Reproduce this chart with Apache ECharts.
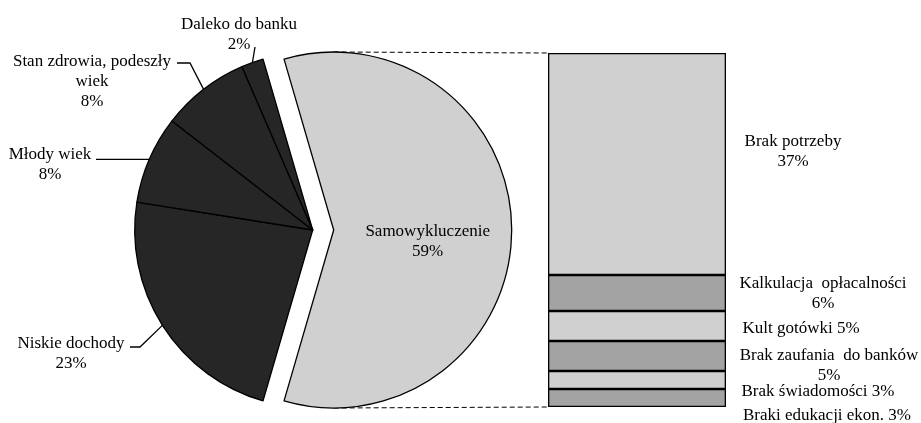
<!DOCTYPE html>
<html>
<head>
<meta charset="utf-8">
<script src="https://cdn.jsdelivr.net/npm/echarts@6/dist/echarts.min.js"></script>
<style>
  html, body { margin: 0; padding: 0; background: #fff; }
  #chart { width: 921px; height: 423px; }
</style>
</head>
<body>
<div id="chart"></div>
<script>
// Reasons for staying outside the banking system (%)
const pieNames = ['Samowykluczenie', 'Niskie dochody', 'Młody wiek', 'Stan zdrowia, podeszły\nwiek', 'Daleko do banku'];
const pieValues = [59, 23, 8, 8, 2];

// Breakdown of the "Samowykluczenie" slice
const barNames = ['Brak potrzeby', 'Kalkulacja  opłacalności', 'Kult gotówki', 'Brak zaufania  do banków', 'Brak świadomości', 'Braki edukacji ekon.'];
const barValues = [37, 6, 5, 5, 3, 3];

// ---- layout / style ----
const FONT = '"Liberation Serif", "Times New Roman", serif';
const PIE_CENTER = [312.7, 230];
const PIE_R = 178;
const EXPLODE = 21;          // the broken-out slice is pulled right by this much
const DARK = '#262626', LIGHT = '#d0d0d0', MID = '#a3a3a3';
const EDGE = { borderColor: '#000', borderWidth: 1.3 };
const GRID = { left: 548, top: 53, width: 178, height: 354 };

// label block centres for the outside pie labels and the bar segments
const pieLabelAt = [null, [71, 354], [50, 164.5], [92, 82], [239, 34.5]];
const innerLabelOffset = [2, 12];
const barLabelAt = [[245, 99], [275, 18.5], [253, 18], [281, 24.5], [270, 20.5], [279, 27]];
const barLabelBreak = [true, true, false, true, false, false];

const pieTotal = pieValues.reduce((a, b) => a + b, 0);
const barTotal = barValues.reduce((a, b) => a + b, 0);
// first slice is centred on the 3 o'clock direction
const startAngle = pieValues[0] / pieTotal * 180;

// angle (deg, counter-clockwise from +x) in the middle of pie slice i
function midAngle(i) {
  let acc = 0;
  for (let k = 0; k < i; k++) acc += pieValues[k];
  return startAngle - (acc + pieValues[i] / 2) / pieTotal * 360;
}
function edgePoint(i) {
  const a = midAngle(i) * Math.PI / 180;
  return [PIE_CENTER[0] + PIE_R * Math.cos(a), PIE_CENTER[1] - PIE_R * Math.sin(a)];
}
// leader line bends for each outside pie label
function leaderPoints(i) {
  const e = edgePoint(i);
  switch (i) {
    case 1: return [e, [140, 347], [130, 347]];
    case 2: return [e, [96, e[1]]];
    case 3: return [e, [190, 63], [177, 63]];
    case 4: return [e, [255, 47]];
  }
  return null;
}

const hidden = {
  itemStyle: { color: 'rgba(0,0,0,0)', borderWidth: 0 },
  label: { show: false },
  labelLine: { show: false }
};

// the broken-out slice (drawn from the same data, others left invisible)
const brokenOutData = pieValues.map((v, i) => i === 0
  ? {
      name: pieNames[i], value: v,
      itemStyle: Object.assign({ color: LIGHT }, EDGE),
      label: { show: true, position: 'inside', offset: innerLabelOffset },
      labelLine: { show: false }
    }
  : Object.assign({ name: pieNames[i], value: v }, hidden));

// the remaining slices, in their original place
const restData = pieValues.map((v, i) => i === 0
  ? Object.assign({ name: pieNames[i], value: v }, hidden)
  : { name: pieNames[i], value: v, itemStyle: Object.assign({ color: DARK }, EDGE) });

const textStyle = { fontFamily: FONT, fontSize: 17, color: '#000', lineHeight: 20 };
const pieLabelFormat = p => p.name + '\n' + p.value + '%';

const pieBase = {
  type: 'pie',
  radius: PIE_R,
  startAngle: startAngle,
  clockwise: true,
  avoidLabelOverlap: false,
  silent: true,
  emphasis: { disabled: true }
};

const barSeries = [];
// stacked bottom-up, so the last bar segment is pushed first
for (let i = barValues.length - 1; i >= 0; i--) {
  barSeries.push({
    type: 'bar',
    name: barNames[i],
    stack: 'other',
    barWidth: '100%',
    silent: true,
    data: [barValues[i]],
    itemStyle: Object.assign({ color: i % 2 === 0 ? LIGHT : MID }, EDGE),
    label: Object.assign({
      show: true,
      position: barLabelAt[i],
      align: 'center',
      verticalAlign: 'middle',
      formatter: p => p.seriesName + (barLabelBreak[i] ? '\n' : ' ') + p.value + '%'
    }, textStyle)
  });
}

const chart = echarts.init(document.getElementById('chart'), null, { renderer: 'canvas' });
chart.setOption({
  animation: false,
  backgroundColor: '#fff',
  grid: Object.assign({ containLabel: false }, GRID),
  xAxis: { type: 'category', data: [''], show: false },
  yAxis: { type: 'value', min: 0, max: barTotal, show: false },
  series: [
    Object.assign({}, pieBase, {
      center: [PIE_CENTER[0] + EXPLODE, PIE_CENTER[1]],
      data: brokenOutData,
      label: Object.assign({ formatter: pieLabelFormat, align: 'center' }, textStyle)
    }),
    Object.assign({}, pieBase, {
      center: PIE_CENTER,
      data: restData,
      label: Object.assign({ show: true, position: 'outside', formatter: pieLabelFormat, align: 'center' }, textStyle),
      labelLine: { show: true, lineStyle: { color: '#000', width: 1.3 } },
      labelLayout: function (params) {
        const i = params.dataIndex;
        if (!pieLabelAt[i]) return {};
        return {
          x: pieLabelAt[i][0],
          y: pieLabelAt[i][1],
          align: 'center',
          verticalAlign: 'middle',
          labelLinePoints: leaderPoints(i)
        };
      }
    })
  ].concat(barSeries)
});

// dashed connectors from the broken-out slice to the stacked bar
const barTop = chart.convertToPixel({ gridIndex: 0 }, [0, barTotal]);
const barBottom = chart.convertToPixel({ gridIndex: 0 }, [0, 0]);
const sliceX = PIE_CENTER[0] + EXPLODE;
const dash = { stroke: '#000', lineWidth: 1, lineDash: [5, 3] };
chart.setOption({
  graphic: [
    { type: 'line', silent: true, z: 0, shape: { x1: sliceX, y1: PIE_CENTER[1] - PIE_R, x2: GRID.left, y2: barTop[1] }, style: dash },
    { type: 'line', silent: true, z: 0, shape: { x1: sliceX, y1: PIE_CENTER[1] + PIE_R, x2: GRID.left, y2: barBottom[1] }, style: dash }
  ]
});
</script>
</body>
</html>
